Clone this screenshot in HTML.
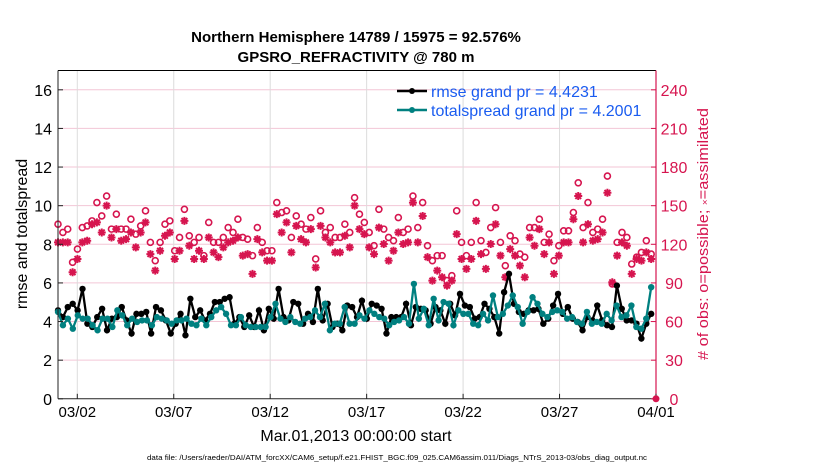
<!DOCTYPE html>
<html><head><meta charset="utf-8"><style>
html,body{margin:0;padding:0;background:#fff;width:830px;height:470px;overflow:hidden}
svg{display:block;font-family:"Liberation Sans",Arial,sans-serif}
</style></head><body>
<svg id="chart" width="830" height="470" viewBox="0 0 830 470">
<text x="356" y="42" text-anchor="middle" font-size="15" font-weight="bold">Northern Hemisphere 14789 / 15975 = 92.576%</text>
<text x="356" y="62" text-anchor="middle" font-size="15" font-weight="bold">GPSRO_REFRACTIVITY @ 780 m</text>
<g id="grid"></g>
<g id="marks"></g>
<g id="axes"></g>
<text transform="translate(27,234) rotate(-90)" text-anchor="middle" font-size="16">rmse and totalspread</text>
<text transform="translate(708,234) rotate(-90)" text-anchor="middle" font-size="15" fill="#d6154f" textLength="252" lengthAdjust="spacingAndGlyphs"># of obs: o=possible; <tspan font-size="9">×</tspan>=assimilated</text>
<text x="356" y="441" text-anchor="middle" font-size="16">Mar.01,2013 00:00:00 start</text>
<text x="397" y="460" text-anchor="middle" font-size="7.5" textLength="500" lengthAdjust="spacingAndGlyphs">data file: /Users/raeder/DAI/ATM_forcXX/CAM6_setup/f.e21.FHIST_BGC.f09_025.CAM6assim.011/Diags_NTrS_2013-03/obs_diag_output.nc</text>
<g>
<line x1="397" y1="91" x2="427" y2="91" stroke="#000" stroke-width="2.5"/><circle cx="412" cy="91" r="3" fill="#000"/>
<text x="431" y="97" font-size="16" fill="#1a5cf0">rmse grand pr = 4.4231</text>
<line x1="397" y1="110" x2="427" y2="110" stroke="#008080" stroke-width="2.5"/><circle cx="412" cy="110" r="3" fill="#008080"/>
<text x="431" y="116" font-size="16" fill="#1a5cf0">totalspread grand pr = 4.2001</text>
</g>
</svg>
<script>
const rmse=[4.58,4.23,4.75,4.92,4.58,5.69,3.89,3.72,4.23,4.66,3.55,4.15,4.23,4.75,4.06,3.38,4.4,4.4,4.5,3.38,4.75,4.58,4.06,3.38,3.89,4.4,3.29,5.18,4.23,4.58,4.06,4.4,5.01,5.01,5.18,5.26,3.89,4.23,3.72,4.32,3.72,4.58,3.55,4.66,4.15,5.69,4.23,4.06,5.01,4.92,3.89,4.4,3.98,5.69,4.06,4.92,3.72,3.89,3.55,4.83,4.75,4.23,
5.08,4.15,4.92,4.83,4.66,3.38,4.23,4.23,4.23,4.92,3.81,4.75,4.66,4.58,3.89,4.75,4.58,3.89,4.92,4.32,5.43,4.83,4.75,4.15,4.23,4.92,4.66,4.23,3.38,5.52,6.47,4.92,4.5,4.4,4.58,4.58,4.66,3.89,4.15,4.83,5.43,4.4,4.75,4.15,3.98,3.55,4.23,4.06,4.83,4.06,3.81,3.72,5.86,4.66,4.06,4.06,3.89,3.12,3.89,4.4];
const spread=[4.5,3.81,4.15,3.63,4.32,4.15,4.15,3.81,3.55,4.15,4.15,3.72,4.58,4.32,3.81,4.15,3.98,4.06,4.06,3.81,4.23,4.15,4.06,3.89,4.06,4.06,4.15,3.89,3.81,4.15,3.81,4.23,4.58,4.75,4.4,3.81,3.81,4.23,3.81,3.72,3.72,3.72,3.72,4.23,4.92,4.15,3.98,4.23,3.98,3.89,4.15,4.23,4.58,4.23,4.92,3.55,3.89,3.89,4.75,3.89,3.89,
4.32,4.15,4.58,4.4,4.23,4.15,3.81,3.98,4.06,4.23,3.89,5.95,4.15,4.66,3.81,5.18,4.06,5.01,4.92,3.81,4.58,4.4,4.4,3.89,3.81,4.4,4.06,5.35,4.23,4.4,4.83,5.35,4.75,3.89,4.5,5.26,4.92,4.4,4.23,4.5,4.58,4.5,4.15,4.23,3.98,3.89,4.5,3.89,3.98,3.89,4.4,4.06,4.83,4.23,4.32,4.83,3.72,3.63,4.15,5.78];
const possible=[135.6,129.2,131.8,106,116.3,133,134.3,138.2,152.4,142,157.5,131.8,143.4,131.8,131.8,139.5,127.9,134.3,146,121.5,107.3,121.5,135.6,138.2,115,125.3,147.2,126.6,121.5,125.3,111.2,137,121.5,121.5,125.3,133,129.2,139.5,125.3,124,111.2,133,121.5,115,115,152.4,144.7,146,125.3,142,135.6,131.8,140.8,108.6,146,129.2,133,125.3,125.3,135.6,129.2,156.2,143.4,
137,129.2,118.9,147.2,131.8,125.3,122.8,140.8,129.2,131.8,157.5,133,152.4,118.9,107.3,111.2,111.2,91.8,95.6,146,121.5,111.2,121.5,152.4,122.8,113.7,133,148.5,121.5,103.4,126.6,122.8,112.4,110,133,133,139.5,121.5,127.9,107.3,118.9,130.5,130.5,144.7,167.8,133,152.4,129.2,131.8,139.5,173,89.2,121.5,129.2,125.3,104.7,110,113.7,122.8,112.4];
const assimilated=[121.5,121.5,121.5,98.3,108.6,121.5,122.8,135.6,137,129.2,150,125.3,131.8,122.8,124,129.2,117.6,129.2,137,112.4,99.6,115,126.6,129.2,108.6,115,138.2,118.9,108.6,115,108.6,125.3,113.7,110,117.6,121.5,122.8,125.3,111.2,112.4,97,124,113.7,107.3,107.3,143.4,129.2,137,113.7,134.3,124,121.5,131.8,102,134.3,125.3,121.5,113.7,113.7,126.6,117.6,150,131.8,
127.9,117.6,112.4,133,120.2,107.3,115,129.2,120.2,121.5,152.4,121.5,142,110,91.8,99.6,94.4,87.9,91.8,127.9,108.6,100.9,108.6,138.2,112.4,100.9,120.2,135.6,111.2,94.4,116.3,111.2,103.4,94.4,125.3,118.9,131.8,112.4,121.5,97,111.2,121.5,121.5,139.5,157.5,121.5,135.6,122.8,124,129.2,160,90.5,111.2,121.5,118.9,97,108.6,107.3,113.7,108.6];
const leftTicks=[0,2,4,6,8,10,12,14,16];
const rightTicks=[0,30,60,90,120,150,180,210,240];
const dateTicks=[1,6,11,16,21,26,31];
const dateLabels=["03/02","03/07","03/12","03/17","03/22","03/27","04/01"];
const L=58,R=656,T=70.5,B=398.8,DAYS=31,LMAX=17,RMAX=255;
const RED="#d6154f",TEAL="#008080";
function xS(d){return L+(R-L)*d/DAYS}
function yL(v){return B-(B-T)*v/LMAX}
function yR(v){return B-(B-T)*v/RMAX}
function tOf(i,n){return i*30.75/(n-1)}
const NS="http://www.w3.org/2000/svg";
function mk(tag,attrs,parent){const e=document.createElementNS(NS,tag);for(const k in attrs)e.setAttribute(k,attrs[k]);parent.appendChild(e);return e}
const grid=document.getElementById('grid'),marks=document.getElementById('marks'),axes=document.getElementById('axes');
leftTicks.forEach(v=>{if(v===0)return;const g=mk('line',{x1:L,x2:R,y1:yL(v),y2:yL(v),stroke:"#f3c6d6","stroke-width":1},grid);

});
dateTicks.forEach(d=>{const g=mk('line',{x1:xS(d),x2:xS(d),y1:T,y2:B,stroke:"#dcdcdc","stroke-width":1},grid);

});
function series(arr,scale,color,name){
 const n=arr.length;const pts=arr.map((v,i)=>xS(tOf(i,n)).toFixed(1)+","+scale(v).toFixed(1)).join(" ");
 const pl=mk('polyline',{points:pts,fill:"none",stroke:color,"stroke-width":2.3},marks);
 
 
 arr.forEach((v,i)=>{const c=mk('circle',{cx:xS(tOf(i,n)),cy:scale(v),r:3.2,fill:color},marks);
 
 });
}
possible.forEach((v,i)=>{const c=mk('circle',{cx:xS(tOf(i,possible.length)),cy:yR(v),r:3,fill:"none",stroke:RED,"stroke-width":1.6},marks);

});
assimilated.forEach((v,i)=>{const x=xS(tOf(i,assimilated.length)),y=yR(v),r=4;
 const d=`M${x-r},${y}H${x+r}M${x},${y-r}V${y+r}M${x-r*0.72},${y-r*0.72}L${x+r*0.72},${y+r*0.72}M${x-r*0.72},${y+r*0.72}L${x+r*0.72},${y-r*0.72}`;
 const p=mk('path',{d:d,stroke:RED,"stroke-width":2,fill:"none"},marks);
 
 });
series(rmse,yL,"#000",'rmse');
series(spread,yL,TEAL,'totalspread');
mk('line',{x1:L,x2:R,y1:T,y2:T,stroke:"#000","stroke-width":1},axes);
mk('line',{x1:L,x2:R,y1:B,y2:B,stroke:"#222","stroke-width":1},axes);
mk('line',{x1:L,x2:L,y1:T,y2:B,stroke:"#222","stroke-width":1},axes);
mk('line',{x1:R,x2:R,y1:T,y2:B,stroke:RED,"stroke-width":1.2},axes);
leftTicks.forEach(v=>{mk('line',{x1:L,x2:L+5,y1:yL(v),y2:yL(v),stroke:"#222"},axes);
 const t=mk('text',{x:L-6,y:yL(v)+6,"text-anchor":"end","font-size":16},axes);t.textContent=v;
 
 });
rightTicks.forEach(v=>{mk('line',{x1:R-5,x2:R,y1:yR(v),y2:yR(v),stroke:RED},axes);
 const t=mk('text',{x:674,y:yR(v)+6,"text-anchor":"middle","font-size":16,fill:RED},axes);t.textContent=v;
 
 });
dateTicks.forEach((d,i)=>{mk('line',{x1:xS(d),x2:xS(d),y1:B,y2:B-5,stroke:"#222"},axes);
 const t=mk('text',{x:xS(d),y:B+18,"text-anchor":"middle","font-size":15},axes);t.textContent=dateLabels[i];
 
 });
const z=mk('circle',{cx:R,cy:B,r:3.5,fill:RED},axes);


</script>
</body></html>
